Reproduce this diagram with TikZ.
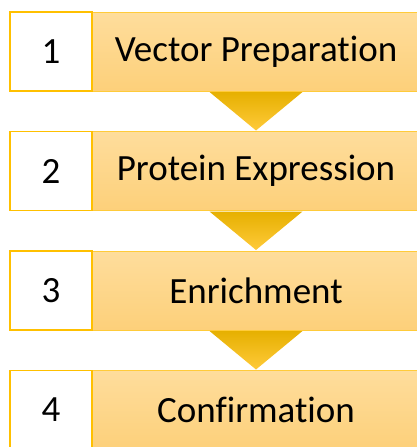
\documentclass[tikz,border=0pt]{standalone}
\usepackage{fontspec}
\setmainfont{Carlito}[Ligatures=NoCommon]
\usetikzlibrary{calc}
\definecolor{gold}{HTML}{FFC000}
\definecolor{lblborder}{HTML}{FFCB3A}
\definecolor{lbltop}{HTML}{FEDD9C}
\definecolor{lblbot}{HTML}{FDD07A}
\definecolor{tritop}{HTML}{E6B000}
\definecolor{trimid}{HTML}{FFC400}
\definecolor{tribot}{HTML}{FFCA3A}
\tikzset{
  numbox/.style={draw=gold, line width=1.5pt, fill=white, minimum width=82pt, minimum height=79pt, inner sep=0pt, font=\fontsize{37}{42}\selectfont, text=black},
  lblbox/.style={draw=lblborder, line width=1pt, top color=lbltop, bottom color=lblbot, minimum width=328pt, minimum height=79pt, inner sep=0pt, font=\fontsize{37}{42}\selectfont, text=black},
  chevron/.style={top color=tritop, middle color=trimid, bottom color=tribot, draw=none}
}
\begin{document}
\begin{tikzpicture}[x=1pt,y=-1pt]
\useasboundingbox (0,0) rectangle (416,447);
\node[lblbox] (L1) at (256,51.5) {Vector Preparation};
\node[lblbox] (L2) at (256,171) {Protein Expression};
\node[lblbox] (L3) at (256,290.5) {Enrichment};
\node[lblbox] (L4) at (256,410) {Confirmation};
\node[numbox] (N1) at (51,51.5) {1};
\node[numbox] (N2) at (51,171) {2};
\node[numbox] (N3) at (51,290.5) {3};
\node[numbox] (N4) at (51,410) {4};
\foreach \a/\b in {L1/L2,L2/L3,L3/L4}{
  \path[chevron] ($(\a.south)+(-46.5,0.5)$) -- ($(\a.south)+(46.5,0.5)$) -- ($(\b.north)+(0,-0.5)$) -- cycle;
}
\end{tikzpicture}
\end{document}
